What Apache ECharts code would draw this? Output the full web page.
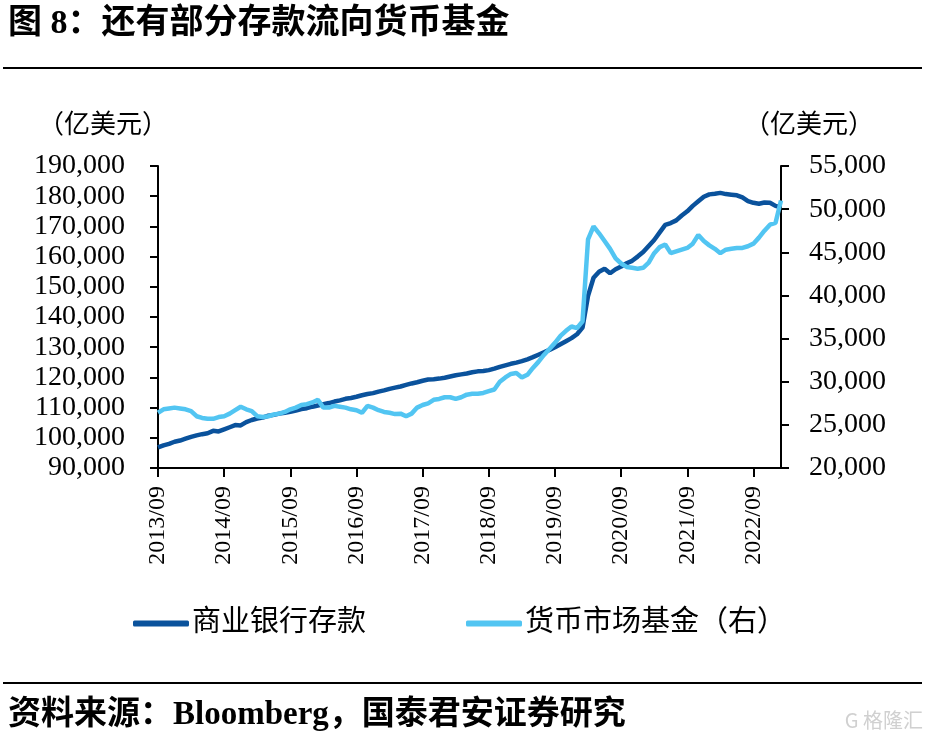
<!DOCTYPE html>
<html>
<head>
<meta charset="utf-8">
<script src="https://cdn.jsdelivr.net/npm/echarts@6/dist/echarts.min.js"></script>
<style>
html,body{margin:0;padding:0;background:#fff;}
#c{width:927px;height:743px;}
</style>
</head>
<body>
<div id="c"></div>
<script>
// Categories: monthly, 2013/09 .. 2023/02
var months = [];
(function(){
  var y = 2013, m = 9;
  for (var i = 0; i < 114; i++) {
    months.push(y + '/' + (m < 10 ? '0' + m : m));
    m++; if (m > 12) { m = 1; y++; }
  }
})();

// Commercial bank deposits (left axis, 亿美元)
var deposits = [
  96800, 97500, 98000, 98700, 99100, 99700, 100300, 100800, 101200, 101500, 102300, 102100,
  102800, 103500, 104200, 104100, 105200, 105900, 106400, 106700, 107300, 107600, 108000, 108300,
  108600, 109000, 109500, 109800, 110300, 110700, 111100, 111500, 112000, 112400, 112900, 113200,
  113600, 114100, 114500, 114800, 115300, 115700, 116200, 116600, 117000, 117500, 118000, 118400,
  118900, 119300, 119400, 119600, 119900, 120300, 120700, 121000, 121300, 121700, 122000, 122100,
  122400, 122900, 123500, 124000, 124500, 124900, 125400, 126000, 126700, 127500, 128300, 129100,
  130000, 131000, 132000, 133000, 134300, 136500, 147000, 153000, 155000, 156000, 154500, 155800,
  156700, 157800, 158600, 160000, 161500, 163500, 165500, 168000, 170500, 171100, 172000, 173600,
  175000, 176800, 178300, 179800, 180600, 180800, 181100, 180700, 180500, 180300, 179600, 178400,
  177800, 177500, 177900, 177800, 176800, 176300
];

// Money market funds (right axis, 亿美元)
var mmf = [
  26400, 26800, 26900, 27000, 26900, 26800, 26600, 26000, 25800, 25700, 25700, 25900,
  26000, 26300, 26700, 27100, 26800, 26600, 26000, 25900, 26000, 26200, 26300, 26500,
  26800, 27000, 27300, 27400, 27600, 27900, 27000, 27000, 27200, 27100, 27000, 26800,
  26700, 26400, 27200, 27000, 26700, 26500, 26400, 26250, 26300, 26000, 26300, 27000,
  27300, 27500, 27900, 28000, 28200, 28200, 28000, 28200, 28500, 28600, 28600, 28700,
  28900, 29100, 30000, 30500, 30900, 31000, 30500, 30800, 31600, 32300, 33100, 33800,
  34500, 35300, 35900, 36400, 36200, 37000, 46500, 48000, 47200, 46300, 45400, 44300,
  43700, 43300, 43200, 43100, 43200, 43800, 44900, 45600, 45900, 44900, 45100, 45300,
  45500, 46000, 47000, 46300, 45800, 45400, 44900, 45300, 45400, 45500, 45500, 45700,
  46000, 46700, 47500, 48200, 48400, 51000
];

var seriesNames = ['商业银行存款', '货币市场基金（右）'];
var unitLabel = '（亿美元）';
var titleText = '图 8：还有部分存款流向货币基金';
var sourceText = '资料来源：Bloomberg，国泰君安证券研究';

var serif = '"Liberation Serif","Times New Roman","Noto Sans CJK SC",serif';
var cjk = '"Liberation Serif","Noto Sans CJK SC",sans-serif';

var chart = echarts.init(document.getElementById('c'));
function fmt(v){ return Number(v).toLocaleString('en-US'); }

chart.setOption({
  animation: false,
  backgroundColor: '#fff',
  grid: { left: 158, right: 146, top: 166, bottom: 275, containLabel: false },
  legend: {
    bottom: 100,
    left: 128,
    itemWidth: 56,
    itemHeight: 6,
    itemGap: 100,
    icon: 'roundRect',
    textStyle: { fontFamily: cjk, fontSize: 29, color: '#000', padding: [0,0,0,-2] },
    data: seriesNames
  },
  xAxis: {
    type: 'category',
    boundaryGap: false,
    data: months,
    axisLine: { lineStyle: { color: '#000', width: 2 } },
    axisTick: { interval: function(i){ return i % 12 === 0; }, length: 9, lineStyle: { color: '#000', width: 2 } },
    axisLabel: {
      interval: function(i){ return i % 12 === 0; },
      rotate: 90, margin: 18,
      fontFamily: serif, fontSize: 24, color: '#000'
    },
    splitLine: { show: false }
  },
  yAxis: [
    {
      type: 'value', min: 90000, max: 190000, interval: 10000, position: 'left',
      axisLine: { show: true, lineStyle: { color: '#000', width: 2 } },
      axisTick: { show: true, length: 8, lineStyle: { color: '#000', width: 2 } },
      axisLabel: { formatter: fmt, margin: 33, fontFamily: serif, fontSize: 28, color: '#000' },
      splitLine: { show: false }
    },
    {
      type: 'value', min: 20000, max: 55000, interval: 5000, position: 'right',
      axisLine: { show: true, lineStyle: { color: '#000', width: 2 } },
      axisTick: { show: true, length: 8, lineStyle: { color: '#000', width: 2 } },
      axisLabel: { formatter: fmt, margin: 28, fontFamily: serif, fontSize: 28, color: '#000' },
      splitLine: { show: false }
    }
  ],
  series: [
    {
      name: seriesNames[0], type: 'line', yAxisIndex: 0, data: deposits,
      showSymbol: false, color: '#0A529C',
      lineStyle: { width: 4.5, color: '#0A529C' }
    },
    {
      name: seriesNames[1], type: 'line', yAxisIndex: 1, data: mmf,
      showSymbol: false, color: '#52C5F2',
      lineStyle: { width: 4.5, color: '#52C5F2' }
    }
  ],
  graphic: [
    { type: 'text', left: 8, top: 7, style: { text: titleText, font: 'bold 34px ' + cjk, fill: '#000' } },
    { type: 'line', shape: { x1: 3, y1: 68, x2: 922, y2: 68 }, style: { stroke: '#000', lineWidth: 2 } },
    { type: 'text', left: 38, top: 113, style: { text: unitLabel, font: '26px ' + cjk, fill: '#000' } },
    { type: 'text', left: 744, top: 113, style: { text: unitLabel, font: '26px ' + cjk, fill: '#000' } },
    { type: 'line', shape: { x1: 3, y1: 683, x2: 922, y2: 683 }, style: { stroke: '#000', lineWidth: 2 } },
    { type: 'text', left: 8, top: 699, style: { text: sourceText, font: 'bold 33px ' + cjk, fill: '#000' } },
    { type: 'text', right: 4, top: 710, style: { text: 'G 格隆汇', font: '20px "Noto Sans CJK SC",sans-serif', fill: '#d0d0d0' } }
  ]
});
</script>
</body>
</html>
